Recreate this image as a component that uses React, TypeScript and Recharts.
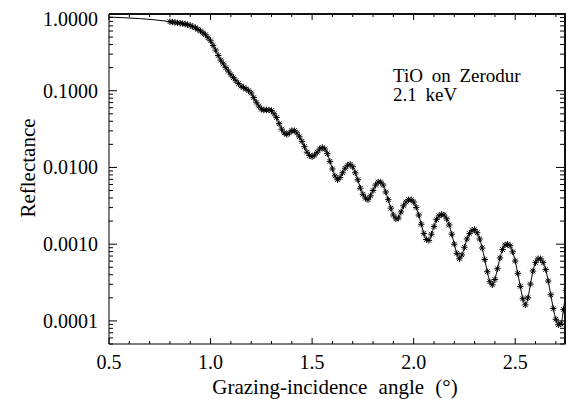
import React from 'react';
import { LineChart, Line, XAxis, YAxis } from 'recharts';

const angle = [
  0.5,
  0.8, 0.8125, 0.825, 0.8375, 0.85, 0.8625, 0.875, 0.8875, 0.9, 0.9125, 0.925, 0.9375, 0.95, 0.9625, 0.975, 0.9875,
  1.0, 1.0125, 1.025, 1.0375, 1.05, 1.0625, 1.075, 1.0875, 1.1, 1.1125, 1.125, 1.1375, 1.15, 1.1625, 1.175, 1.1875,
  1.2, 1.2125, 1.225, 1.2375, 1.25, 1.2625, 1.275, 1.2875, 1.3, 1.3125, 1.325, 1.3375, 1.35, 1.3625, 1.375, 1.3875,
  1.4, 1.4125, 1.425, 1.4375, 1.45, 1.4625, 1.475, 1.4875, 1.5, 1.5125, 1.525, 1.5375, 1.55, 1.5625, 1.575, 1.5875,
  1.6, 1.6125, 1.625, 1.6375, 1.65, 1.6625, 1.675, 1.6875, 1.7, 1.7125, 1.725, 1.7375, 1.75, 1.7625, 1.775, 1.7875,
  1.8, 1.8125, 1.825, 1.8375, 1.85, 1.8625, 1.875, 1.8875, 1.9, 1.9125, 1.925, 1.9375, 1.95, 1.9625, 1.975, 1.9875,
  2.0, 2.0125, 2.025, 2.0375, 2.05, 2.0625, 2.075, 2.0875, 2.1, 2.1125, 2.125, 2.1375, 2.15, 2.1625, 2.175, 2.1875,
  2.2, 2.2125, 2.225, 2.2375, 2.25, 2.2625, 2.275, 2.2875, 2.3, 2.3125, 2.325, 2.3375, 2.35, 2.3625, 2.375, 2.3875,
  2.4, 2.4125, 2.425, 2.4375, 2.45, 2.4625, 2.475, 2.4875, 2.5, 2.5125, 2.525, 2.5375, 2.55, 2.5625, 2.575, 2.5875,
  2.6, 2.6125, 2.625, 2.6375, 2.65, 2.6625, 2.675, 2.6875, 2.7, 2.7125, 2.725, 2.7375, 2.75,
];
const reflectance = [
  0.912,
  0.794, 0.785, 0.776, 0.767, 0.759, 0.75, 0.741, 0.724, 0.708, 0.684, 0.661, 0.631, 0.603, 0.569, 0.537, 0.49,
  0.447, 0.389, 0.339, 0.288, 0.251, 0.224, 0.2, 0.18, 0.162, 0.148, 0.135, 0.124, 0.115, 0.11, 0.105, 0.1,
  0.0933, 0.0813, 0.0708, 0.0631, 0.0575, 0.0562, 0.0562, 0.0562, 0.055, 0.0501, 0.0447, 0.0372, 0.0316, 0.0282, 0.0269, 0.0282,
  0.0302, 0.0302, 0.0282, 0.0251, 0.0219, 0.0186, 0.0158, 0.0143, 0.0138, 0.0145, 0.0158, 0.0174, 0.0182, 0.0174, 0.0151, 0.012,
  0.00955, 0.00776, 0.00692, 0.00741, 0.00851, 0.00977, 0.0107, 0.011, 0.0102, 0.00851, 0.00692, 0.00537, 0.00447, 0.00398, 0.0038, 0.00427,
  0.00501, 0.00589, 0.00646, 0.00646, 0.00589, 0.00479, 0.0038, 0.00295, 0.0024, 0.00214, 0.00219, 0.00263, 0.00316, 0.00355, 0.0038, 0.0038,
  0.00355, 0.00302, 0.0024, 0.00182, 0.00138, 0.00115, 0.00112, 0.00135, 0.0017, 0.00209, 0.00234, 0.00245, 0.0024, 0.00214, 0.00178, 0.00135,
  0.001, 0.000759, 0.000646, 0.000724, 0.000912, 0.00117, 0.00138, 0.00151, 0.00155, 0.00141, 0.00117, 0.000891, 0.000631, 0.000437, 0.000324, 0.000295,
  0.000347, 0.000479, 0.000661, 0.000851, 0.000977, 0.001, 0.000955, 0.000794, 0.000603, 0.000417, 0.000282, 0.000195, 0.000162, 0.0002, 0.000302, 0.000447,
  0.000575, 0.000646, 0.000646, 0.000575, 0.000468, 0.000331, 0.000219, 0.000145, 0.000105, 0.0000891, 0.0000912, 0.000141, 0.000251,
];

const xTicks = [0.5, 0.6, 0.7, 0.8, 0.9, 1.0, 1.1, 1.2, 1.3, 1.4, 1.5, 1.6, 1.7, 1.8, 1.9, 2.0, 2.1, 2.2, 2.3, 2.4, 2.5, 2.6, 2.7];
const xLabels = [0.5, 1.0, 1.5, 2.0, 2.5];
const yMajor = [0.0001, 0.001, 0.01, 0.1, 1];
const yLabels = ['0.0001', '0.0010', '0.0100', '0.1000', '1.0000'];

const yTicks: number[] = [0.00005, 0.00006, 0.00007, 0.00008, 0.00009];
yMajor.slice(0, 4).forEach((d) => {
  for (let k = 1; k <= 9; k++) yTicks.push(+(d * k).toPrecision(3));
});
yTicks.push(1);

const data = angle.map((a, i) => ({ angle: a, r: reflectance[i] }));

const FONT = '"Liberation Serif", "Times New Roman", serif';
const M = 10;
const PLOT_LEFT = 109;
const PLOT_TOP = 14;
const PLOT_W = 457;
const PLOT_H = 330;

const isMajorX = (v: number) => xLabels.some((l) => Math.abs(l - v) < 1e-6);

// bottom axis tick, plus its mirror on the top frame
const BottomTick = (props: any) => {
  const { x, y, payload } = props;
  const ay = y - M;
  const len = isMajorX(payload.value) ? 6 : 3;
  return (
    <g>
      <line x1={x} x2={x} y1={ay} y2={ay - len} stroke="#000" />
      <line x1={x} x2={x} y1={PLOT_TOP} y2={PLOT_TOP + len} stroke="#000" />
      {isMajorX(payload.value) && (
        <text x={x} y={ay + 25} textAnchor="middle" fontFamily={FONT} fontSize={20} fill="#000">
          {payload.value.toFixed(1)}
        </text>
      )}
    </g>
  );
};

// left axis tick, plus its mirror on the right frame
const LeftTick = (props: any) => {
  const { x, y, payload } = props;
  const ax = x + M;
  const right = PLOT_LEFT + PLOT_W - 2;
  const idx = yMajor.findIndex((l) => Math.abs(l - payload.value) / l < 1e-6);
  const len = idx >= 0 ? 8 : 4;
  // the top label sits a little lower so it stays inside the figure
  const shift = idx === 4 ? 5 : 0;
  return (
    <g>
      <line x1={ax} x2={ax + len} y1={y} y2={y} stroke="#000" />
      <line x1={right} x2={right - len} y1={y} y2={y} stroke="#000" />
      {idx >= 0 && (
        <text x={ax - 11} y={y + 7 + shift} textAnchor="end" fontFamily={FONT} fontSize={20} fill="#000">
          {yLabels[idx]}
        </text>
      )}
    </g>
  );
};

const Asterisk = ({ cx, cy }: { cx: number; cy: number }) => {
  const r = 3.2;
  const d = r * 0.72;
  return (
    <g stroke="#000" strokeWidth={1}>
      <line x1={cx - r} x2={cx + r} y1={cy} y2={cy} />
      <line x1={cx} x2={cx} y1={cy - r} y2={cy + r} />
      <line x1={cx - d} x2={cx + d} y1={cy - d} y2={cy + d} />
      <line x1={cx - d} x2={cx + d} y1={cy + d} y2={cy - d} />
    </g>
  );
};

export default function App() {
  return (
    <div
      style={{
        position: 'absolute',
        left: 0,
        top: 0,
        width: 566,
        height: 399,
        overflow: 'hidden',
        fontFamily: FONT,
        background: '#fff',
      }}
    >
      <LineChart width={567} height={399} data={data} margin={{ top: PLOT_TOP, right: 1, left: 0, bottom: 0 }}>
        <XAxis
          dataKey="angle"
          type="number"
          domain={[0.5, 2.75]}
          allowDataOverflow
          ticks={xTicks}
          interval={0}
          height={55}
          tickSize={0}
          tickMargin={M}
          tickLine={false}
          axisLine={{ stroke: '#000' }}
          tick={<BottomTick />}
        />
        <YAxis
          type="number"
          scale="log"
          domain={[0.00005, 1]}
          allowDataOverflow
          ticks={yTicks}
          interval={0}
          width={PLOT_LEFT}
          tickSize={0}
          tickMargin={M}
          tickLine={false}
          axisLine={{ stroke: '#000' }}
          tick={<LeftTick />}
        />
        <Line
          dataKey="r"
          type="monotone"
          stroke="#000"
          strokeWidth={1}
          isAnimationActive={false}
          dot={(p: any) =>
            p.payload.angle < 0.7 ? (
              <g key={`d${p.payload.angle}`} />
            ) : (
              <Asterisk key={`d${p.payload.angle}`} cx={p.cx} cy={p.cy} />
            )
          }
          activeDot={false}
        />
      </LineChart>
      {/* top and right edges of the plot frame */}
      <div
        style={{
          position: 'absolute',
          left: PLOT_LEFT,
          top: PLOT_TOP - 1,
          width: PLOT_W - 2,
          height: PLOT_H - 1,
          borderTop: '2px solid #111',
          borderRight: '2px solid #111',
          pointerEvents: 'none',
        }}
      />
      <div
        style={{
          position: 'absolute',
          left: 28,
          top: 168,
          fontSize: 21,
          lineHeight: 1,
          transform: 'translate(-50%, -50%) rotate(-90deg)',
          whiteSpace: 'nowrap',
        }}
      >
        Reflectance
      </div>
      <div
        style={{
          position: 'absolute',
          left: 335,
          top: 387,
          fontSize: 21,
          lineHeight: 1,
          wordSpacing: 6,
          transform: 'translate(-50%, -50%)',
          whiteSpace: 'nowrap',
        }}
      >
        Grazing-incidence angle (°)
      </div>
      <div style={{ position: 'absolute', left: 393, top: 66, fontSize: 19, lineHeight: 1, whiteSpace: 'nowrap', wordSpacing: 4 }}>
        TiO on Zerodur
      </div>
      <div style={{ position: 'absolute', left: 393, top: 85, fontSize: 19, lineHeight: 1, whiteSpace: 'nowrap', wordSpacing: 4 }}>
        2.1 keV
      </div>
    </div>
  );
}
